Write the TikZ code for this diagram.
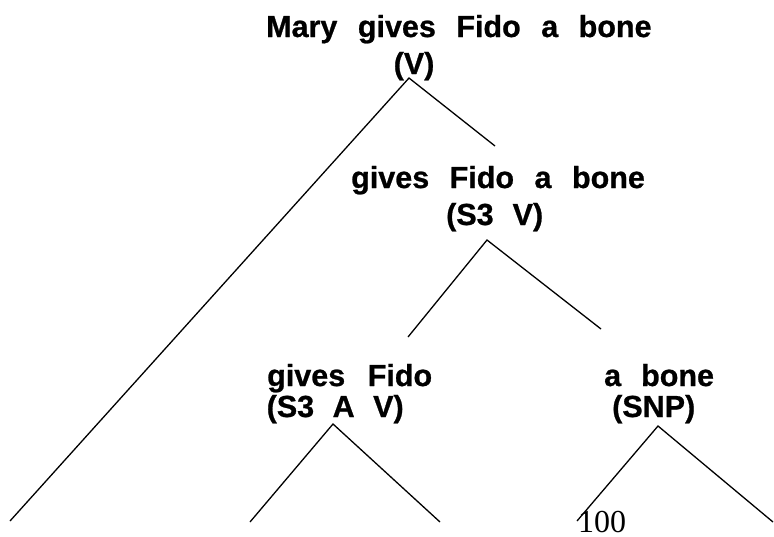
\documentclass[tikz,border=0pt]{standalone}
\usepackage{fontspec}
\setmainfont{Liberation Sans}
\newfontfamily\lblfont{Liberation Sans}[UprightFont=*-Bold, FakeBold=0.8]
\newfontfamily\numfont{Liberation Serif}
\tikzset{
  lbl/.style={anchor=base west, inner sep=0pt, font=\lblfont\fontsize{30.5}{36}\selectfont},
  branch/.style={line width=1.3pt, black},
  pagenum/.style={anchor=base west, inner sep=0pt, font=\numfont\fontsize{32}{38}\selectfont}
}
\newcommand\wg[1]{\hspace*{#1pt}}
\begin{document}
\begin{tikzpicture}[x=1pt,y=-1pt]
\useasboundingbox (0,0) rectangle (774,536);
\fill[white] (0,0) rectangle (774,536);
% text nodes
\node[lbl] (t0a) at (266,37) {Mary\wg{20.5}gives\wg{20.5}Fido\wg{20.5}a\wg{20.5}bone};
\node[lbl] (t0b) at (393.5,74) {(V)};
\node[lbl] (t1a) at (351,188) {gives\wg{20.5}Fido\wg{20.5}a\wg{20.5}bone};
\node[lbl] (t1b) at (446,225) {(S3\wg{19}V)};
\node[lbl] (t2a) at (267,386) {gives\wg{22.6}Fido};
\node[lbl] (t2b) at (266.5,417) {(S3\wg{18.5}A\wg{18.5}V)};
\node[lbl] (t3a) at (604,386) {a\wg{20}bone};
\node[lbl] (t3b) at (612,417) {(SNP)};
\node[pagenum] (pn) at (578,532) {100};
% branch points
\coordinate (a0) at (409,78);
\coordinate (l0) at (10,521);
\coordinate (r0) at (495,146);
\coordinate (a1) at (487,240);
\coordinate (l1) at (408,337);
\coordinate (r1) at (601,329);
\coordinate (a2) at (333,424);
\coordinate (l2) at (250,522);
\coordinate (r2) at (440,522);
\coordinate (a3) at (658,426);
\coordinate (l3) at (577,521);
\coordinate (r3) at (773,522);
% connectors
\draw[branch] (l0) -- (a0) -- (r0);
\draw[branch] (l1) -- (a1) -- (r1);
\draw[branch] (l2) -- (a2) -- (r2);
\draw[branch] (l3) -- (a3) -- (r3);
\end{tikzpicture}
\end{document}
